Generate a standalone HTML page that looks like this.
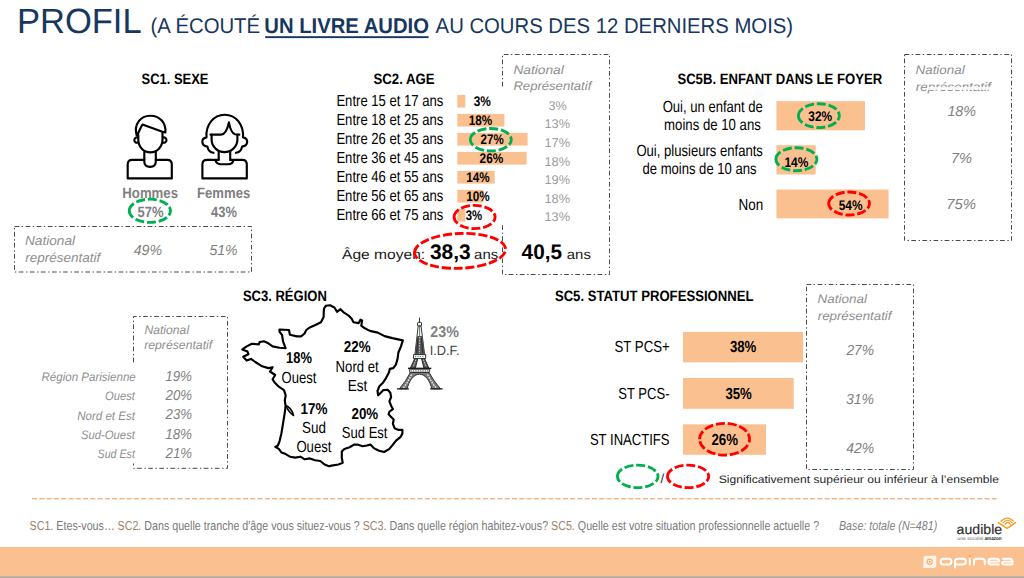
<!DOCTYPE html>
<html lang="fr"><head><meta charset="utf-8"><title>Profil</title>
<style>
html,body{margin:0;padding:0;background:#fff;}
body{width:1024px;height:578px;overflow:hidden;font-family:"Liberation Sans",sans-serif;}
svg{display:block;font-family:"Liberation Sans",sans-serif;}
svg text{white-space:pre;text-rendering:geometricPrecision;}
</style></head><body>
<svg width="1024" height="578" viewBox="0 0 1024 578">
<rect width="1024" height="578" fill="#fff"/>
<text x="16.9" y="33.0" font-size="35" font-weight="normal" font-style="normal" fill="#17375E" text-anchor="start" textLength="124.8" lengthAdjust="spacingAndGlyphs">PROFIL</text>
<text x="150.6" y="33.0" font-size="21.3" font-weight="normal" font-style="normal" fill="#17375E" text-anchor="start" textLength="109.5" lengthAdjust="spacingAndGlyphs">(A ÉCOUTÉ</text>
<text x="264.3" y="33.0" font-size="21.3" font-weight="bold" font-style="normal" fill="#17375E" text-anchor="start" textLength="164.7" lengthAdjust="spacingAndGlyphs">UN LIVRE AUDIO</text>
<text x="435.6" y="33.0" font-size="21.3" font-weight="normal" font-style="normal" fill="#17375E" text-anchor="start" textLength="357.5" lengthAdjust="spacingAndGlyphs">AU COURS DES 12 DERNIERS MOIS)</text>
<rect x="265.2" y="36.2" width="163.4" height="1.9" fill="#17375E"/>
<text x="141.5" y="84.0" font-size="15" font-weight="bold" font-style="normal" fill="#000" text-anchor="start" textLength="67.0" lengthAdjust="spacingAndGlyphs">SC1. SEXE</text>
<g id="icons" fill="none" stroke="#000" stroke-width="2.15" stroke-linecap="round" stroke-linejoin="round">
<path d="M144.3 159.8 H132.2 Q127.7 159.8 127.7 164.3 V178.4 H171.8 V164.3 Q171.8 159.8 167.3 159.8 H155.8"/>
<path d="M144.3 152 V161.5 Q144.3 166.8 150.05 166.8 Q155.8 166.8 155.8 161.5 V152"/>
<path d="M138.3 135 V139.5 C138.3 147 143.6 152.3 150.3 152.3 C157 152.3 162.5 147 162.5 139.5 V132.3"/>
<path d="M136.6 135.3 C133.6 124 140.5 115.7 150.2 115.7 C160 115.7 166.2 123 165.4 132.5 L162.5 131.8 L142.4 124.6 C140.5 128 139 131.5 137.3 135.2"/>
<path d="M137.6 137.4 A2.7 2.7 0 1 0 137.9 142.6"/>
<path d="M163.2 137.4 A2.7 2.7 0 1 1 162.9 142.6"/>
<path d="M218.7 159.8 H206.9 Q202.4 159.8 202.4 164.3 V178.4 H246.8 V164.3 Q246.8 159.8 242.3 159.8 H230.2"/>
<path d="M218.7 151.5 V160 M230.2 151.5 V160"/>
<path d="M215.5 160.5 Q216.5 164.2 221 164.2 H228 Q232.5 164.2 233.4 160.5"/>
<path d="M210.4 134.6 H221 C225.6 134.4 227.7 128 228.9 122.4 C230 128.2 231.3 133.4 235 134.3 L239.3 134.6"/>
<path d="M211.6 134.8 V139.5 C211.6 147 218 152.1 224.4 152.1 C231 152.1 237.4 147 237.4 139.5 V134.8"/>
<path d="M213.5 152.8 C210.5 152.5 208.2 150.5 207.4 146.6 C201 146 200.6 138.5 206.5 137.4 C205.5 125 213.5 114.7 224.7 114.7 C236 114.7 244 125 243 137.4 C248.9 138.5 248.5 146 242.1 146.6 C241.3 150.5 239 152.5 235.9 152.8"/>
</g>
<text x="122.3" y="198.0" font-size="15" font-weight="bold" font-style="normal" fill="#7F7F7F" text-anchor="start" textLength="55.7" lengthAdjust="spacingAndGlyphs">Hommes</text>
<text x="197.1" y="198.0" font-size="15" font-weight="bold" font-style="normal" fill="#7F7F7F" text-anchor="start" textLength="53.1" lengthAdjust="spacingAndGlyphs">Femmes</text>
<text x="137.6" y="217.0" font-size="15" font-weight="bold" font-style="normal" fill="#7F7F7F" text-anchor="start" textLength="26.0" lengthAdjust="spacingAndGlyphs">57%</text>
<text x="211.1" y="217.0" font-size="15" font-weight="bold" font-style="normal" fill="#7F7F7F" text-anchor="start" textLength="25.8" lengthAdjust="spacingAndGlyphs">43%</text>
<path d="M129.25 210.80 A20.60 11.60 0 1 1 170.45 210.80 A20.60 11.60 0 1 1 129.25 210.80" fill="none" stroke="#00B050" stroke-width="2.85" stroke-dasharray="9.0 2.8"/>
<path d="M14.5 226.5 H251.5 V272 H14.5 Z" fill="none" stroke="#404040" stroke-width="0.95" stroke-dasharray="4.7 2.4 1.4 2.6"/>
<text x="25.0" y="245.1" font-size="13" font-weight="normal" font-style="italic" fill="#8E8E8E" text-anchor="start" textLength="50.1" lengthAdjust="spacingAndGlyphs">National</text>
<text x="25.2" y="262.2" font-size="13" font-weight="normal" font-style="italic" fill="#8E8E8E" text-anchor="start" textLength="75.2" lengthAdjust="spacingAndGlyphs">représentatif</text>
<text x="133.7" y="254.9" font-size="14.6" font-weight="normal" font-style="italic" fill="#7F7F7F" text-anchor="start" textLength="28.3" lengthAdjust="spacingAndGlyphs">49%</text>
<text x="209.4" y="254.9" font-size="14.6" font-weight="normal" font-style="italic" fill="#7F7F7F" text-anchor="start" textLength="28.2" lengthAdjust="spacingAndGlyphs">51%</text>
<text x="373.4" y="84.0" font-size="15" font-weight="bold" font-style="normal" fill="#000" text-anchor="start" textLength="61.3" lengthAdjust="spacingAndGlyphs">SC2. AGE</text>
<rect x="457.3" y="94.9" width="8.0" height="12.7" fill="#FAC090"/>
<rect x="457.3" y="113.9" width="47.1" height="12.7" fill="#FAC090"/>
<rect x="457.3" y="132.9" width="70.3" height="12.7" fill="#FAC090"/>
<rect x="457.3" y="151.9" width="69.3" height="12.7" fill="#FAC090"/>
<rect x="457.3" y="170.9" width="37.4" height="12.7" fill="#FAC090"/>
<rect x="457.3" y="189.9" width="26.0" height="12.7" fill="#FAC090"/>
<rect x="457.3" y="208.9" width="8.0" height="12.7" fill="#FAC090"/>
<text x="336.4" y="106.0" font-size="16" font-weight="normal" font-style="normal" fill="#000" text-anchor="start" textLength="106.9" lengthAdjust="spacingAndGlyphs">Entre 15 et 17 ans</text>
<text x="473.7" y="106.0" font-size="14" font-weight="bold" font-style="normal" fill="#000" text-anchor="start" textLength="17.2" lengthAdjust="spacingAndGlyphs">3%</text>
<text x="548.5" y="110.0" font-size="12.7" font-weight="normal" font-style="normal" fill="#9C9C9C" text-anchor="start" textLength="18.2" lengthAdjust="spacingAndGlyphs">3%</text>
<text x="336.4" y="125.0" font-size="16" font-weight="normal" font-style="normal" fill="#000" text-anchor="start" textLength="106.9" lengthAdjust="spacingAndGlyphs">Entre 18 et 25 ans</text>
<text x="468.8" y="125.0" font-size="14" font-weight="bold" font-style="normal" fill="#000" text-anchor="start" textLength="23.5" lengthAdjust="spacingAndGlyphs">18%</text>
<text x="544.5" y="128.4" font-size="12.7" font-weight="normal" font-style="normal" fill="#9C9C9C" text-anchor="start" textLength="25.6" lengthAdjust="spacingAndGlyphs">13%</text>
<text x="336.4" y="144.0" font-size="16" font-weight="normal" font-style="normal" fill="#000" text-anchor="start" textLength="106.9" lengthAdjust="spacingAndGlyphs">Entre 26 et 35 ans</text>
<text x="480.6" y="144.0" font-size="14" font-weight="bold" font-style="normal" fill="#000" text-anchor="start" textLength="23.1" lengthAdjust="spacingAndGlyphs">27%</text>
<text x="544.5" y="146.8" font-size="12.7" font-weight="normal" font-style="normal" fill="#9C9C9C" text-anchor="start" textLength="25.6" lengthAdjust="spacingAndGlyphs">17%</text>
<text x="336.4" y="163.0" font-size="16" font-weight="normal" font-style="normal" fill="#000" text-anchor="start" textLength="106.9" lengthAdjust="spacingAndGlyphs">Entre 36 et 45 ans</text>
<text x="479.6" y="163.0" font-size="14" font-weight="bold" font-style="normal" fill="#000" text-anchor="start" textLength="23.7" lengthAdjust="spacingAndGlyphs">26%</text>
<text x="544.5" y="165.5" font-size="12.7" font-weight="normal" font-style="normal" fill="#9C9C9C" text-anchor="start" textLength="25.6" lengthAdjust="spacingAndGlyphs">18%</text>
<text x="336.4" y="182.0" font-size="16" font-weight="normal" font-style="normal" fill="#000" text-anchor="start" textLength="106.9" lengthAdjust="spacingAndGlyphs">Entre 46 et 55 ans</text>
<text x="466.3" y="182.0" font-size="14" font-weight="bold" font-style="normal" fill="#000" text-anchor="start" textLength="23.5" lengthAdjust="spacingAndGlyphs">14%</text>
<text x="544.5" y="183.8" font-size="12.7" font-weight="normal" font-style="normal" fill="#9C9C9C" text-anchor="start" textLength="25.6" lengthAdjust="spacingAndGlyphs">19%</text>
<text x="336.4" y="201.0" font-size="16" font-weight="normal" font-style="normal" fill="#000" text-anchor="start" textLength="106.9" lengthAdjust="spacingAndGlyphs">Entre 56 et 65 ans</text>
<text x="466.3" y="201.0" font-size="14" font-weight="bold" font-style="normal" fill="#000" text-anchor="start" textLength="23.5" lengthAdjust="spacingAndGlyphs">10%</text>
<text x="544.5" y="202.8" font-size="12.7" font-weight="normal" font-style="normal" fill="#9C9C9C" text-anchor="start" textLength="25.6" lengthAdjust="spacingAndGlyphs">18%</text>
<text x="336.4" y="220.0" font-size="16" font-weight="normal" font-style="normal" fill="#000" text-anchor="start" textLength="106.9" lengthAdjust="spacingAndGlyphs">Entre 66 et 75 ans</text>
<text x="465.7" y="220.0" font-size="14" font-weight="bold" font-style="normal" fill="#000" text-anchor="start" textLength="16.5" lengthAdjust="spacingAndGlyphs">3%</text>
<text x="544.5" y="220.8" font-size="12.7" font-weight="normal" font-style="normal" fill="#9C9C9C" text-anchor="start" textLength="25.6" lengthAdjust="spacingAndGlyphs">13%</text>
<path d="M470.30 139.70 A20.50 11.20 0 1 1 511.30 139.70 A20.50 11.20 0 1 1 470.30 139.70" fill="none" stroke="#00B050" stroke-width="2.85" stroke-dasharray="9.0 2.8"/>
<path d="M454.10 217.00 A20.50 11.60 0 1 1 495.10 217.00 A20.50 11.60 0 1 1 454.10 217.00" fill="none" stroke="#FF0000" stroke-width="2.85" stroke-dasharray="9.0 2.8"/>
<path d="M502.5 86.5 V54.5 H609.5 V274.5 H502.5 V223.5" fill="none" stroke="#404040" stroke-width="0.95" stroke-dasharray="4.7 2.4 1.4 2.6"/>
<text x="513.4" y="74.0" font-size="12.3" font-weight="normal" font-style="italic" fill="#8E8E8E" text-anchor="start" textLength="50.4" lengthAdjust="spacingAndGlyphs">National</text>
<text x="513.4" y="90.0" font-size="12.3" font-weight="normal" font-style="italic" fill="#8E8E8E" text-anchor="start" textLength="77.9" lengthAdjust="spacingAndGlyphs">Représentatif</text>
<text x="342.0" y="259.0" font-size="13.6" font-weight="normal" font-style="normal" fill="#1a1a1a" text-anchor="start" textLength="83.2" lengthAdjust="spacingAndGlyphs">Âge moyen:</text>
<text x="429.9" y="259.4" font-size="21" font-weight="bold" font-style="normal" fill="#000" text-anchor="start" textLength="40.8" lengthAdjust="spacingAndGlyphs">38,3</text>
<text x="474.1" y="259.0" font-size="13.6" font-weight="normal" font-style="normal" fill="#1a1a1a" text-anchor="start" textLength="24.1" lengthAdjust="spacingAndGlyphs">ans</text>
<text x="521.6" y="259.4" font-size="21" font-weight="bold" font-style="normal" fill="#000" text-anchor="start" textLength="40.4" lengthAdjust="spacingAndGlyphs">40,5</text>
<text x="566.8" y="259.0" font-size="13.6" font-weight="normal" font-style="normal" fill="#1a1a1a" text-anchor="start" textLength="24.1" lengthAdjust="spacingAndGlyphs">ans</text>
<path d="M414.50 250.90 A45.50 17.40 0 1 1 505.50 250.90 A45.50 17.40 0 1 1 414.50 250.90" fill="none" stroke="#FF0000" stroke-width="2.85" stroke-dasharray="9.0 2.8" transform="rotate(-2.3 460.0 250.9)"/>
<text x="677.4" y="84.0" font-size="15" font-weight="bold" font-style="normal" fill="#000" text-anchor="start" textLength="204.8" lengthAdjust="spacingAndGlyphs">SC5B. ENFANT DANS LE FOYER</text>
<rect x="776.4" y="101.2" width="88.6" height="29.1" fill="#FAC090"/>
<rect x="776.4" y="145.2" width="39.3" height="29.3" fill="#FAC090"/>
<rect x="776.4" y="189.5" width="112.2" height="28.9" fill="#FAC090"/>
<text x="662.7" y="112.0" font-size="16" font-weight="normal" font-style="normal" fill="#000" text-anchor="start" textLength="100.2" lengthAdjust="spacingAndGlyphs">Oui, un enfant de</text>
<text x="664.1" y="130.0" font-size="16" font-weight="normal" font-style="normal" fill="#000" text-anchor="start" textLength="96.7" lengthAdjust="spacingAndGlyphs">moins de 10 ans</text>
<text x="636.4" y="156.0" font-size="16" font-weight="normal" font-style="normal" fill="#000" text-anchor="start" textLength="126.5" lengthAdjust="spacingAndGlyphs">Oui, plusieurs enfants</text>
<text x="642.5" y="174.0" font-size="16" font-weight="normal" font-style="normal" fill="#000" text-anchor="start" textLength="114.0" lengthAdjust="spacingAndGlyphs">de moins de 10 ans</text>
<text x="738.5" y="210.0" font-size="16" font-weight="normal" font-style="normal" fill="#000" text-anchor="start" textLength="24.7" lengthAdjust="spacingAndGlyphs">Non</text>
<text x="808.3" y="121.0" font-size="14" font-weight="bold" font-style="normal" fill="#000" text-anchor="start" textLength="23.8" lengthAdjust="spacingAndGlyphs">32%</text>
<text x="784.4" y="167.0" font-size="14" font-weight="bold" font-style="normal" fill="#000" text-anchor="start" textLength="23.9" lengthAdjust="spacingAndGlyphs">14%</text>
<text x="838.7" y="210.0" font-size="14" font-weight="bold" font-style="normal" fill="#000" text-anchor="start" textLength="23.9" lengthAdjust="spacingAndGlyphs">54%</text>
<path d="M798.40 115.70 A20.50 11.90 0 1 1 839.40 115.70 A20.50 11.90 0 1 1 798.40 115.70" fill="none" stroke="#00B050" stroke-width="2.85" stroke-dasharray="9.0 2.8"/>
<path d="M775.90 159.20 A20.50 11.50 0 1 1 816.90 159.20 A20.50 11.50 0 1 1 775.90 159.20" fill="none" stroke="#00B050" stroke-width="2.85" stroke-dasharray="9.0 2.8"/>
<path d="M828.70 203.50 A20.40 11.50 0 1 1 869.50 203.50 A20.40 11.50 0 1 1 828.70 203.50" fill="none" stroke="#FF0000" stroke-width="2.85" stroke-dasharray="9.0 2.8"/>
<path d="M904.5 54.5 H1011.5 V240.5 H904.5 Z" fill="none" stroke="#404040" stroke-width="0.95" stroke-dasharray="4.7 2.4 1.4 2.6"/>
<text x="915.5" y="74.0" font-size="12.3" font-weight="normal" font-style="italic" fill="#8E8E8E" text-anchor="start" textLength="49.2" lengthAdjust="spacingAndGlyphs">National</text>
<text x="915.7" y="91.0" font-size="12.3" font-weight="normal" font-style="italic" fill="#8E8E8E" text-anchor="start" textLength="75.1" lengthAdjust="spacingAndGlyphs">représentatif</text>
<rect x="927" y="86.9" width="64" height="2.9" fill="#fff" opacity="0.88"/>
<text x="947.4" y="116.4" font-size="14.5" font-weight="normal" font-style="italic" fill="#7F7F7F" text-anchor="start" textLength="28.6" lengthAdjust="spacingAndGlyphs">18%</text>
<text x="950.9" y="162.7" font-size="14.5" font-weight="normal" font-style="italic" fill="#7F7F7F" text-anchor="start" textLength="21.1" lengthAdjust="spacingAndGlyphs">7%</text>
<text x="946.3" y="208.8" font-size="14.5" font-weight="normal" font-style="italic" fill="#7F7F7F" text-anchor="start" textLength="29.8" lengthAdjust="spacingAndGlyphs">75%</text>
<text x="242.9" y="301.0" font-size="15" font-weight="bold" font-style="normal" fill="#000" text-anchor="start" textLength="83.9" lengthAdjust="spacingAndGlyphs">SC3. RÉGION</text>
<path d="M133.5 362.4 V316.5 H227.5 V468.3 H133.5 V463.5" fill="none" stroke="#404040" stroke-width="0.95" stroke-dasharray="4.7 2.4 1.4 2.6"/>
<text x="144.4" y="334.0" font-size="12.3" font-weight="normal" font-style="italic" fill="#8E8E8E" text-anchor="start" textLength="44.7" lengthAdjust="spacingAndGlyphs">National</text>
<text x="144.2" y="349.0" font-size="12.3" font-weight="normal" font-style="italic" fill="#8E8E8E" text-anchor="start" textLength="68.0" lengthAdjust="spacingAndGlyphs">représentatif</text>
<text x="41.5" y="381.0" font-size="12.3" font-weight="normal" font-style="italic" fill="#8E8E8E" text-anchor="start" textLength="94.3" lengthAdjust="spacingAndGlyphs">Région Parisienne</text>
<text x="105.1" y="400.0" font-size="12.3" font-weight="normal" font-style="italic" fill="#8E8E8E" text-anchor="start" textLength="29.8" lengthAdjust="spacingAndGlyphs">Ouest</text>
<text x="77.3" y="420.0" font-size="12.3" font-weight="normal" font-style="italic" fill="#8E8E8E" text-anchor="start" textLength="57.6" lengthAdjust="spacingAndGlyphs">Nord et Est</text>
<text x="81.1" y="439.0" font-size="12.3" font-weight="normal" font-style="italic" fill="#8E8E8E" text-anchor="start" textLength="53.8" lengthAdjust="spacingAndGlyphs">Sud-Ouest</text>
<text x="97.6" y="458.0" font-size="12.3" font-weight="normal" font-style="italic" fill="#8E8E8E" text-anchor="start" textLength="37.3" lengthAdjust="spacingAndGlyphs">Sud Est</text>
<text x="165.2" y="381.0" font-size="14.5" font-weight="normal" font-style="italic" fill="#7F7F7F" text-anchor="start" textLength="26.8" lengthAdjust="spacingAndGlyphs">19%</text>
<text x="165.6" y="400.0" font-size="14.5" font-weight="normal" font-style="italic" fill="#7F7F7F" text-anchor="start" textLength="26.4" lengthAdjust="spacingAndGlyphs">20%</text>
<text x="165.6" y="419.0" font-size="14.5" font-weight="normal" font-style="italic" fill="#7F7F7F" text-anchor="start" textLength="26.4" lengthAdjust="spacingAndGlyphs">23%</text>
<text x="165.2" y="439.0" font-size="14.5" font-weight="normal" font-style="italic" fill="#7F7F7F" text-anchor="start" textLength="26.8" lengthAdjust="spacingAndGlyphs">18%</text>
<text x="165.6" y="458.0" font-size="14.5" font-weight="normal" font-style="italic" fill="#7F7F7F" text-anchor="start" textLength="26.4" lengthAdjust="spacingAndGlyphs">21%</text>
<path id="france" d="M325.8 305.8 L330.1 305.3 L334.4 307.5 L337.0 311.8 L340.5 309.2 L344.0 312.7 L348.3 315.3 L351.7 318.8 L353.5 322.2 L358.7 323.1 L360.4 319.6 L362.1 320.5 L361.3 325.7 L364.7 328.3 L369.9 330.9 L377.7 332.6 L384.6 336.1 L392.4 338.1 L402.8 340.4 L401.0 346.4 L398.4 352.5 L397.6 358.6 L395.9 364.6 L393.3 368.1 L389.8 368.9 L388.9 372.4 L386.3 377.6 L382.9 382.8 L379.4 386.2 L377.5 391.0 L378.2 395.3 L380.8 392.7 L383.4 390.1 L387.7 389.8 L390.3 392.7 L391.1 397.0 L389.4 401.4 L391.1 405.7 L392.9 409.1 L389.4 411.7 L388.6 414.3 L391.1 416.9 L393.7 419.5 L392.9 423.8 L394.6 428.2 L398.1 429.9 L402.4 429.9 L402.4 433.4 L400.7 436.8 L396.3 440.3 L392.9 444.6 L389.4 448.9 L384.2 452.0 L379.0 450.7 L373.8 448.1 L370.4 444.6 L366.9 445.5 L362.6 446.3 L357.4 444.6 L354.0 444.6 L349.6 447.2 L344.4 448.9 L341.8 451.5 L341.8 457.6 L342.7 462.8 L338.4 464.5 L331.5 465.6 L328.9 466.2 L324.6 464.5 L320.3 461.0 L315.1 460.2 L309.9 458.4 L304.7 459.3 L300.4 456.7 L295.2 457.6 L290.0 456.7 L285.7 454.1 L281.4 452.4 L278.8 448.9 L275.3 446.9 L277.9 445.5 L279.6 441.1 L281.4 433.4 L283.1 423.0 L284.8 412.6 L285.6 406.0 L284.8 400.5 L285.7 395.3 L284.0 390.1 L278.8 386.7 L274.4 382.3 L272.6 379.3 L275.2 375.0 L270.0 371.5 L272.6 367.2 L268.3 368.1 L262.2 366.3 L255.3 362.0 L251.0 358.9 L246.7 360.6 L243.2 356.8 L248.4 354.2 L247.5 351.6 L242.3 349.4 L246.7 346.4 L251.8 343.8 L258.8 344.4 L259.6 342.1 L264.0 341.3 L268.3 343.3 L272.6 346.4 L279.5 347.8 L285.6 348.2 L283.0 341.3 L282.1 335.2 L279.5 331.7 L279.5 329.5 L289.0 330.0 L289.9 334.7 L296.8 336.4 L301.1 336.4 L304.6 333.5 L306.3 330.0 L309.8 327.4 L315.9 324.8 L321.0 322.2 L323.6 317.0 L323.8 311.0 L324.1 308.4 Z" fill="#fff" stroke="#000" stroke-width="2.15" stroke-linejoin="round"/>
<path d="M285.6 405.2 C288.6 406.2 292.6 410.2 293.6 415.6 C290.4 413.4 287.6 410 285.6 405.2 Z" fill="#bbb" stroke="#000" stroke-width="1.5" stroke-linejoin="round"/>
<text x="286.1" y="363.0" font-size="15.7" font-weight="bold" font-style="normal" fill="#000" text-anchor="start" textLength="25.9" lengthAdjust="spacingAndGlyphs">18%</text>
<text x="281.5" y="383.0" font-size="16" font-weight="normal" font-style="normal" fill="#000" text-anchor="start" textLength="34.8" lengthAdjust="spacingAndGlyphs">Ouest</text>
<text x="343.8" y="352.0" font-size="15.7" font-weight="bold" font-style="normal" fill="#000" text-anchor="start" textLength="26.8" lengthAdjust="spacingAndGlyphs">22%</text>
<text x="335.6" y="372.0" font-size="16" font-weight="normal" font-style="normal" fill="#000" text-anchor="start" textLength="43.1" lengthAdjust="spacingAndGlyphs">Nord et</text>
<text x="347.7" y="391.0" font-size="16" font-weight="normal" font-style="normal" fill="#000" text-anchor="start" textLength="19.7" lengthAdjust="spacingAndGlyphs">Est</text>
<text x="300.4" y="414.0" font-size="15.7" font-weight="bold" font-style="normal" fill="#000" text-anchor="start" textLength="27.0" lengthAdjust="spacingAndGlyphs">17%</text>
<text x="302.1" y="433.0" font-size="16" font-weight="normal" font-style="normal" fill="#000" text-anchor="start" textLength="23.9" lengthAdjust="spacingAndGlyphs">Sud</text>
<text x="296.4" y="452.0" font-size="16" font-weight="normal" font-style="normal" fill="#000" text-anchor="start" textLength="35.0" lengthAdjust="spacingAndGlyphs">Ouest</text>
<text x="351.5" y="419.0" font-size="15.7" font-weight="bold" font-style="normal" fill="#000" text-anchor="start" textLength="26.7" lengthAdjust="spacingAndGlyphs">20%</text>
<text x="341.8" y="438.0" font-size="16" font-weight="normal" font-style="normal" fill="#000" text-anchor="start" textLength="45.7" lengthAdjust="spacingAndGlyphs">Sud Est</text>
<g id="eiffel" stroke-linejoin="round" stroke-linecap="butt">
<path d="M419.5 317.6 V322.4" stroke="#222" stroke-width="0.9" fill="none"/>
<rect x="417.6" y="322.3" width="3.9" height="3.6" rx="0.9" fill="#fff" stroke="#222" stroke-width="1"/>
<path d="M418.2 326.2 L414.9 354.6 H424.6 L421.1 326.2 Z" fill="#fff" stroke="#222" stroke-width="0.9"/>
<path d="M417.1 336 L414.9 354.6 H424.6 L422.3 336 Z" fill="#555" stroke="none"/>
<path d="M419.65 326.5 V336" stroke="#333" stroke-width="0.7" fill="none"/>
<path d="M419.65 337 V354" stroke="#fff" stroke-width="0.9" stroke-dasharray="1.6 1.1" opacity="0.75" fill="none"/>
<path d="M418.0 338 L416.6 353 M421.4 338 L422.9 353" stroke="#222" stroke-width="0.8" fill="none"/>
<rect x="413.6" y="354.6" width="12.1" height="4" fill="#fff" stroke="#222" stroke-width="0.95"/>
<path d="M415 356.7 H424.4" stroke="#555" stroke-width="0.9" stroke-dasharray="1.2 1.2" fill="none"/>
<path d="M414.6 358.8 L410.4 368 H415.4 L417.7 358.8 Z M424.7 358.8 L428.8 368 H423.9 L421.6 358.8 Z" fill="#5a5a5a" stroke="#222" stroke-width="0.9"/>
<path d="M415.9 359.6 L413 367.4 M423.4 359.6 L426.3 367.4" stroke="#fff" stroke-width="0.9" stroke-dasharray="1.4 1.2" opacity="0.8" fill="none"/>
<path d="M408 368.4 H431.3" stroke="#1a1a1a" stroke-width="1.5" fill="none"/>
<rect x="409.6" y="369.3" width="20" height="3" fill="#fff" stroke="#222" stroke-width="0.8"/>
<path d="M410.5 370.8 H429" stroke="#555" stroke-width="0.9" stroke-dasharray="1.3 1.1" fill="none"/>
<path d="M410.4 372.4 Q406.2 381 399.4 388.8 H407.1 C409 381.3 413.2 374.2 419.5 374.2 C425.8 374.2 430 381.3 431.8 388.8 H440.5 Q433.6 381 429 372.4 Z" fill="#7a7a7a" stroke="#222" stroke-width="0.9"/>
<path d="M411.6 374.5 Q408 382 403.2 388 M427.6 374.5 Q431.2 382 436.2 388" stroke="#fff" stroke-width="1.3" stroke-dasharray="1.6 1.2" opacity="0.9" fill="none"/>
<path d="M396.9 388.9 H408.9 M430.1 388.9 H442.6" stroke="#1a1a1a" stroke-width="1.2" fill="none"/>
</g>
<text x="430.3" y="337.0" font-size="15.6" font-weight="bold" font-style="normal" fill="#7F7F7F" text-anchor="start" textLength="28.5" lengthAdjust="spacingAndGlyphs">23%</text>
<text x="429.7" y="355.0" font-size="13.5" font-weight="normal" font-style="normal" fill="#404040" text-anchor="start" textLength="29.9" lengthAdjust="spacingAndGlyphs">I.D.F.</text>
<text x="554.9" y="301.0" font-size="15" font-weight="bold" font-style="normal" fill="#000" text-anchor="start" textLength="198.6" lengthAdjust="spacingAndGlyphs">SC5. STATUT PROFESSIONNEL</text>
<rect x="683.0" y="331.9" width="120.1" height="30.5" fill="#FAC090"/>
<rect x="683.0" y="378.0" width="110.7" height="30.8" fill="#FAC090"/>
<rect x="683.0" y="424.3" width="83.0" height="30.5" fill="#FAC090"/>
<text x="614.5" y="352.0" font-size="16" font-weight="normal" font-style="normal" fill="#000" text-anchor="start" textLength="55.2" lengthAdjust="spacingAndGlyphs">ST PCS+</text>
<text x="618.3" y="399.0" font-size="16" font-weight="normal" font-style="normal" fill="#000" text-anchor="start" textLength="51.2" lengthAdjust="spacingAndGlyphs">ST PCS-</text>
<text x="589.9" y="445.0" font-size="16" font-weight="normal" font-style="normal" fill="#000" text-anchor="start" textLength="79.7" lengthAdjust="spacingAndGlyphs">ST INACTIFS</text>
<text x="729.9" y="352.0" font-size="16" font-weight="bold" font-style="normal" fill="#000" text-anchor="start" textLength="26.4" lengthAdjust="spacingAndGlyphs">38%</text>
<text x="725.4" y="399.0" font-size="16" font-weight="bold" font-style="normal" fill="#000" text-anchor="start" textLength="26.4" lengthAdjust="spacingAndGlyphs">35%</text>
<text x="711.4" y="445.0" font-size="16" font-weight="bold" font-style="normal" fill="#000" text-anchor="start" textLength="26.6" lengthAdjust="spacingAndGlyphs">26%</text>
<path d="M699.60 439.20 A25.00 15.90 0 1 1 749.60 439.20 A25.00 15.90 0 1 1 699.60 439.20" fill="none" stroke="#FF0000" stroke-width="2.85" stroke-dasharray="9.0 2.8"/>
<path d="M806.5 284.5 H913.5 V469.5 H806.5 Z" fill="none" stroke="#404040" stroke-width="0.95" stroke-dasharray="4.7 2.4 1.4 2.6"/>
<text x="817.6" y="302.7" font-size="12.3" font-weight="normal" font-style="italic" fill="#8E8E8E" text-anchor="start" textLength="49.4" lengthAdjust="spacingAndGlyphs">National</text>
<text x="817.8" y="319.7" font-size="12.3" font-weight="normal" font-style="italic" fill="#8E8E8E" text-anchor="start" textLength="73.7" lengthAdjust="spacingAndGlyphs">représentatif</text>
<text x="846.4" y="355.3" font-size="14.5" font-weight="normal" font-style="italic" fill="#7F7F7F" text-anchor="start" textLength="27.7" lengthAdjust="spacingAndGlyphs">27%</text>
<text x="846.0" y="404.3" font-size="14.5" font-weight="normal" font-style="italic" fill="#7F7F7F" text-anchor="start" textLength="28.1" lengthAdjust="spacingAndGlyphs">31%</text>
<text x="846.2" y="453.3" font-size="14.5" font-weight="normal" font-style="italic" fill="#7F7F7F" text-anchor="start" textLength="27.9" lengthAdjust="spacingAndGlyphs">42%</text>
<path d="M617.40 476.40 A20.30 11.30 0 1 1 658.00 476.40 A20.30 11.30 0 1 1 617.40 476.40" fill="none" stroke="#00B050" stroke-width="2.85" stroke-dasharray="9.0 2.8"/>
<path d="M667.50 476.40 A20.60 11.30 0 1 1 708.70 476.40 A20.60 11.30 0 1 1 667.50 476.40" fill="none" stroke="#FF0000" stroke-width="2.85" stroke-dasharray="9.0 2.8"/>
<text x="660.5" y="483.0" font-size="13" font-weight="normal" font-style="normal" fill="#222" text-anchor="start">/</text>
<text x="718.8" y="482.7" font-size="10.9" font-weight="normal" font-style="normal" fill="#262626" text-anchor="start" textLength="280.1" lengthAdjust="spacingAndGlyphs">Significativement supérieur ou inférieur à l’ensemble</text>
<line x1="32.2" y1="498.8" x2="998" y2="498.8" stroke="#F4B78A" stroke-width="1.6" stroke-dasharray="5 2.27"/>
<text x="29.6" y="529.7" font-size="13" fill="#797979" textLength="789.5" lengthAdjust="spacingAndGlyphs" id="foot"><tspan fill="#9E8168">SC1</tspan><tspan fill="#a86a6a">.</tspan> Etes-vous… <tspan fill="#9E8168">SC2</tspan><tspan fill="#a86a6a">.</tspan> Dans quelle tranche d'âge vous situez-vous ? <tspan fill="#9E8168">SC3</tspan><tspan fill="#a86a6a">.</tspan> Dans quelle région habitez-vous? <tspan fill="#9E8168">SC5</tspan><tspan fill="#a86a6a">.</tspan> Quelle est votre situation professionnelle actuelle ?</text>
<text x="839.0" y="529.7" font-size="13" font-weight="normal" font-style="italic" fill="#7F7F7F" text-anchor="start" textLength="98.2" lengthAdjust="spacingAndGlyphs">Base: totale (N=481)</text>
<text x="956.6" y="534.0" font-size="13.7" font-weight="normal" font-style="normal" fill="#2b2b2b" text-anchor="start" textLength="45.6" lengthAdjust="spacingAndGlyphs" stroke="#2b2b2b" stroke-width="0.15">audible</text>
<g fill="none" stroke="#F7991C" stroke-linecap="round" stroke-linejoin="round">
<path d="M998.3 522.7 L1007.1 528.3 L1015.6 522.7" stroke-width="1.5"/>
<path d="M1000.9 521.3 Q1007.4 515.1 1013.3 521" stroke-width="1.25"/>
<path d="M1003 522.9 Q1007.7 517.7 1011.9 522.7" stroke-width="1.2"/>
<path d="M1005.1 524.3 Q1008 520.6 1010.4 524.2" stroke-width="1.15"/>
</g>
<text x="957.3" y="540.4" font-size="4.9" font-weight="normal" font-style="normal" fill="#666" text-anchor="start" textLength="26.1" lengthAdjust="spacingAndGlyphs">une société</text>
<text x="984.5" y="540.4" font-size="5.0" font-weight="bold" font-style="normal" fill="#222" text-anchor="start" textLength="17.1" lengthAdjust="spacingAndGlyphs">amazon</text>
<rect x="0.0" y="546.9" width="1024.0" height="31.1" fill="#FAC090"/>
<rect x="0.0" y="576.5" width="1024.0" height="1.5" fill="#A6A6A6"/>
<path d="M926.6 555.8 H936.3 V564.9 Q936.3 568 933.2 568 H923.4 V559 Q923.4 555.8 926.6 555.8 Z" fill="#fff" fill-opacity="0.82"/>
<circle cx="929.7" cy="561.7" r="2.6" fill="none" stroke="#F9B074" stroke-width="1.2"/>
<circle cx="929.7" cy="561.7" r="1.0" fill="#F0A030"/>
<g fill="none" stroke="#fff" stroke-width="1.9" stroke-linecap="round" stroke-linejoin="round">
<path d="M943.3 558.7 H948.7 Q951.4 558.7 951.4 561.4 V561.8 Q951.4 564.5 948.7 564.5 H943.3 Q940.6 564.5 940.6 561.8 V561.4 Q940.6 558.7 943.3 558.7 Z"/>
<path d="M957.7 558.7 H963.1 Q965.8 558.7 965.8 561.4 V561.8 Q965.8 564.5 963.1 564.5 H957.7 Q955.0 564.5 955.0 561.8 V561.4 Q955.0 558.7 957.7 558.7 Z M955.0 561.5 V567.6"/>
<path d="M969.8 558.7 V564.5"/>
<path d="M974.0 564.5 V561.4000000000001 Q974.0 558.7 976.7 558.7 H982.0999999999999 Q984.8 558.7 984.8 561.4000000000001 V564.5"/>
<path d="M999.2 561.6 H988.3 M999.2 561.6 V561.4000000000001 Q999.2 558.7 996.5 558.7 H991.0 Q988.3 558.7 988.3 561.4000000000001 V561.8 Q988.3 564.5 991.0 564.5 H998.8"/>
<path d="M1003 558.7 H1009.6999999999999 Q1012.4 558.7 1012.4 561.4000000000001 V564.5 H1004.6 Q1002.2 564.5 1002.2 563 Q1002.2 561.6 1004.6 561.6 H1012.4"/>
</g>
<circle cx="969.8" cy="556.0" r="0.9" fill="#F0A030"/>
</svg>
</body></html>
